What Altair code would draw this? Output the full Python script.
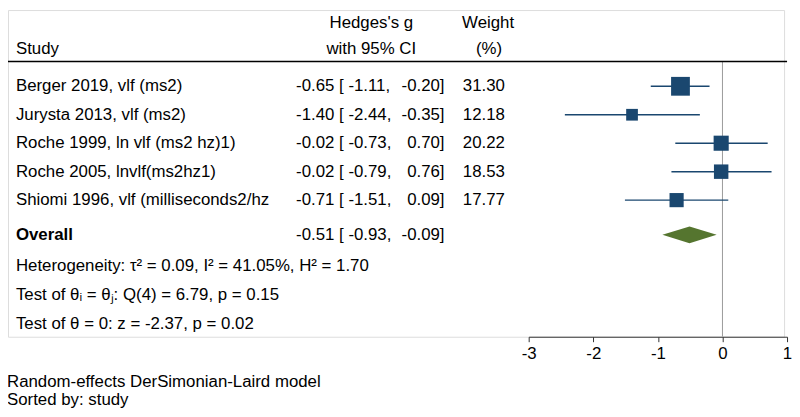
import altair as alt
import pandas as pd

studies = ["Berger 2019, vlf (ms2)", "Jurysta 2013, vlf (ms2)", "Roche 1999, ln vlf (ms2 hz)1)",
           "Roche 2005, lnvlf(ms2hz1)", "Shiomi 1996, vlf (milliseconds2/hz"]
est = [-0.65, -1.40, -0.02, -0.02, -0.71]
lo = [-1.11, -2.44, -0.73, -0.79, -1.51]
hi = [-0.20, -0.35, 0.70, 0.76, 0.09]
weight = [31.30, 12.18, 20.22, 18.53, 17.77]
overall = {"est": -0.51, "lo": -0.93, "hi": -0.09}
ticks = [-3, -2, -1, 0, 1]
stats_lines = [
    "Heterogeneity: \u03c4\u00b2 = 0.09, I\u00b2 = 41.05%, H\u00b2 = 1.70",
    "Test of \u03b8\u1d62 = \u03b8\u2c7c: Q(4) = 6.79, p = 0.15",
    "Test of \u03b8 = 0: z = -2.37, p = 0.02",
]
notes = ["Random-effects DerSimonian-Laird model", "Sorted by: study"]

NAVY = "#1a476f"
GREEN = "#55752f"
FONT = "Liberation Sans"
FS = 17

rows = list(range(1, len(studies) + 1))
OV_ROW = 6.22
df = pd.DataFrame({
    "study": studies, "est": est, "lo": lo, "hi": hi, "weight": weight, "row": rows,
})
df["left_txt"] = [f"{e:.2f} [ {l:.2f}," for e, l in zip(est, lo)]
df["right_txt"] = [f"{h:.2f}]" for h in hi]
df["w_txt"] = [f"{w:.2f}" for w in weight]

ov = pd.DataFrame({"study": ["Overall"], "row": [OV_ROW],
                   "left_txt": [f"{overall['est']:.2f} [ {overall['lo']:.2f},"],
                   "right_txt": [f"{overall['hi']:.2f}]"]})
half = 0.296
diamond = pd.DataFrame({
    "x": [overall["lo"], overall["est"], overall["hi"]],
    "y": [OV_ROW, OV_ROW - half, OV_ROW],
    "y2": [OV_ROW, OV_ROW + half, OV_ROW],
})

xscale = alt.Scale(domain=[-3, 1], range=[526, 787], nice=False, zero=False)
yscale = alt.Scale(domain=[1, 5], range=[77, 192], zero=False, nice=False)
xaxis = alt.Axis(values=ticks, labelExpr="datum.value + ''", title=None, grid=False, tickSize=5,
                 labelFontSize=FS, labelFont=FONT, labelColor="black", labelPadding=4,
                 domainColor="#333333", tickColor="#333333", labelFlush=False)

base = alt.Chart(df)

zero_line = alt.Chart(pd.DataFrame({"x": [0]})).mark_rule(color="#9a9a9a", strokeWidth=1).encode(
    x=alt.X("x:Q", scale=xscale, axis=xaxis), y=alt.value(52), y2=alt.value(330))

header_line = alt.Chart(pd.DataFrame({"a": [0]})).mark_rule(color="black", strokeWidth=1.5).encode(
    x=alt.value(0), x2=alt.value(787), y=alt.value(52))

ci = base.mark_rule(color=NAVY, strokeWidth=1.5).encode(
    x=alt.X("lo:Q", scale=xscale), x2="hi:Q", y=alt.Y("row:Q", scale=yscale, axis=None))

sq = base.mark_square(color=NAVY, opacity=1, filled=True).encode(
    x=alt.X("est:Q", scale=xscale), y=alt.Y("row:Q", scale=yscale),
    size=alt.Size("weight:Q", scale=alt.Scale(type="linear", domain=[0, 31.3], range=[0, 360]), legend=None))

dia = alt.Chart(diamond).mark_area(color=GREEN, opacity=1).encode(
    x=alt.X("x:Q", scale=xscale), y=alt.Y("y:Q", scale=yscale), y2="y2:Q")

def txt(data, field, xpix, align="left", bold=False):
    return alt.Chart(data).mark_text(align=align, baseline="middle", font=FONT, fontSize=FS,
                                     fontWeight="bold" if bold else "normal", color="black").encode(
        x=alt.value(xpix), y=alt.Y("row:Q", scale=yscale), text=f"{field}:N")

study_t = txt(df, "study", 8)
left_t = txt(df, "left_txt", 291)
right_t = txt(df, "right_txt", 441, align="right")
w_t = txt(df, "w_txt", 502, align="right")
ov_name = txt(ov, "study", 8, bold=True)
ov_left = txt(ov, "left_txt", 291)
ov_right = txt(ov, "right_txt", 441, align="right")

headers = pd.DataFrame({
    "t": ["Hedges's g", "with 95% CI", "Weight", "(%)", "Study"],
    "xp": [367, 367, 485, 486, 8],
    "yp": [13, 39, 13, 39, 39],
    "al": ["center", "center", "center", "center", "left"],
})
head_layers = []
for _, r in headers.iterrows():
    head_layers.append(alt.Chart(pd.DataFrame({"t": [r.t]})).mark_text(
        align=r.al, baseline="middle", font=FONT, fontSize=FS, color="black").encode(
        x=alt.value(int(r.xp)), y=alt.value(int(r.yp)), text="t:N"))

stat_layers = []
for i, s in enumerate(stats_lines):
    stat_layers.append(alt.Chart(pd.DataFrame({"t": [s]})).mark_text(
        align="left", baseline="middle", font=FONT, fontSize=FS, color="black").encode(
        x=alt.value(8), y=alt.value(259 + 29 * i), text="t:N"))
for i, s in enumerate(notes):
    stat_layers.append(alt.Chart(pd.DataFrame({"t": [s]})).mark_text(
        align="left", baseline="middle", font=FONT, fontSize=FS, color="black").encode(
        x=alt.value(-1), y=alt.value(376 + 18 * i), text="t:N"))

chart = alt.layer(
    zero_line, header_line, ci, sq, dia, study_t, left_t, right_t, w_t, ov_name, ov_left, ov_right,
    *head_layers, *stat_layers
).properties(
    width=784, height=330, autosize=alt.AutoSizeParams(type="none"),
    padding={"left": 0, "top": 0, "right": 8, "bottom": 79}
).configure_view(stroke=None).configure(background="white")

chart.save("out.html", embed_options={"renderer": "svg", "actions": False})
